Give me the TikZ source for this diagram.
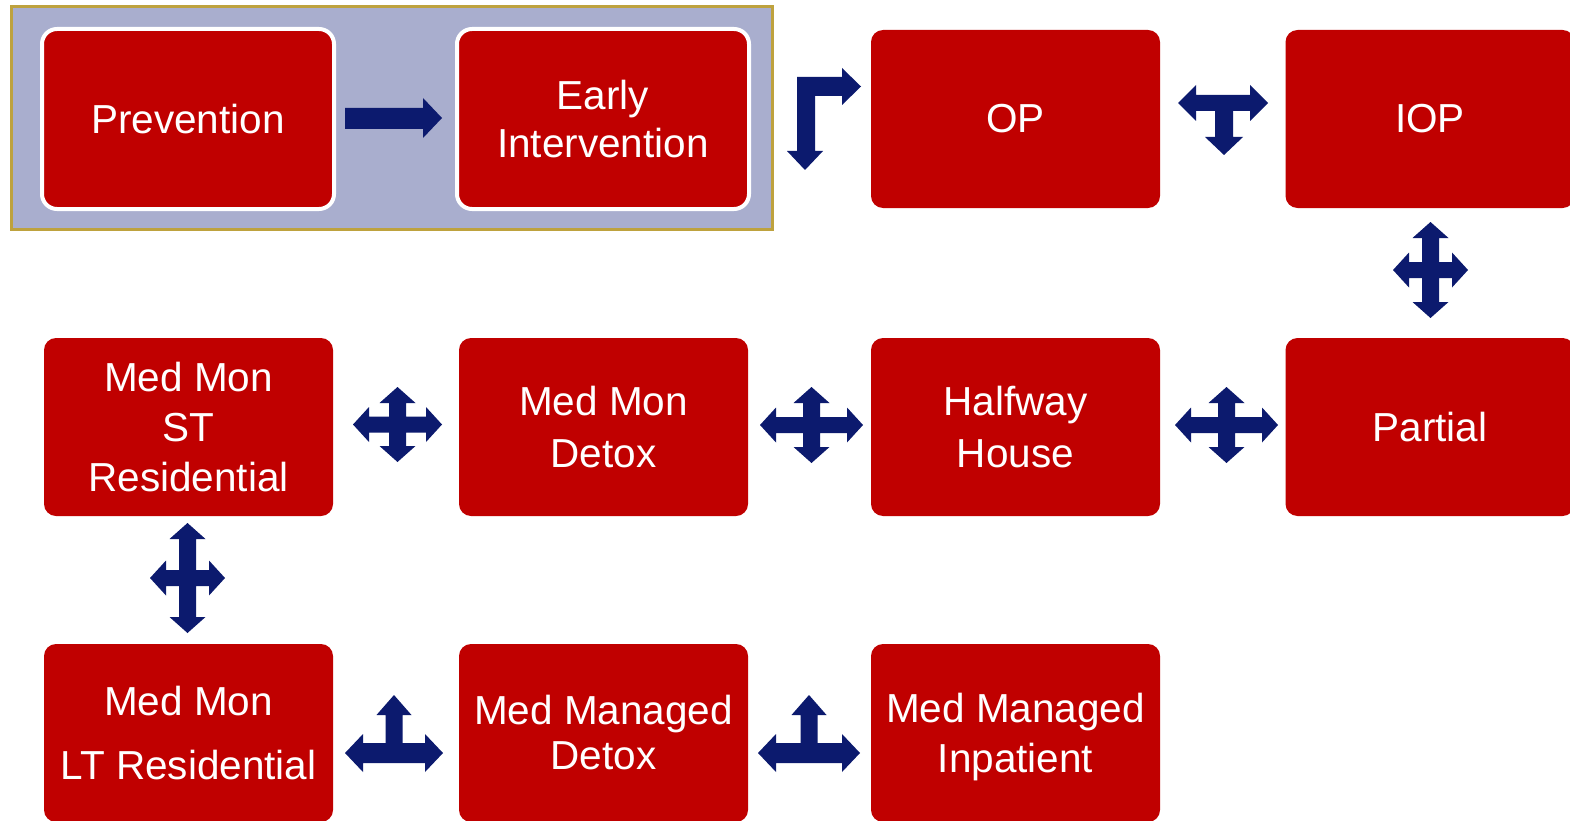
\documentclass[tikz,border=0pt]{standalone}
\usepackage{fontspec}
\setmainfont{Liberation Sans}
\definecolor{boxred}{RGB}{192,0,0}
\definecolor{navy}{RGB}{12,26,110}
\definecolor{lav}{RGB}{169,174,206}
\definecolor{goldc}{RGB}{190,162,62}
\tikzset{
 box/.style={rectangle, rounded corners=12pt, fill=boxred, text=white, minimum width=289pt, minimum height=178pt, inner sep=0pt, outer sep=0pt, align=center, font=\fontsize{40.5}{50}\selectfont},
 wbox/.style={box, draw=white, line width=4pt, minimum width=292pt, minimum height=180pt, rounded corners=15pt},
 blockarrow/.style={fill=navy},
}
\newcommand{\quadarr}[4]{%
\fill[blockarrow] (#1,#2-#4) -- (#1+18,#2-#4+16) -- (#1+8.5,#2-#4+16) -- (#1+8.5,#2-8) -- (#1+#3-16,#2-8) -- (#1+#3-16,#2-17.5) -- (#1+#3,#2) -- (#1+#3-16,#2+17.5) -- (#1+#3-16,#2+8) -- (#1+8.5,#2+8) -- (#1+8.5,#2+#4-16) -- (#1+18,#2+#4-16) -- (#1,#2+#4) -- (#1-18,#2+#4-16) -- (#1-8.5,#2+#4-16) -- (#1-8.5,#2+8) -- (#1-#3+16,#2+8) -- (#1-#3+16,#2+17.5) -- (#1-#3,#2) -- (#1-#3+16,#2-17.5) -- (#1-#3+16,#2-8) -- (#1-8.5,#2-8) -- (#1-8.5,#2-#4+16) -- (#1-18,#2-#4+16) -- cycle;}
\newcommand{\uparr}[3]{%
\fill[blockarrow] (#1,753) -- (#1+18,734) -- (#1+18,743) -- (#3-8.5,743) -- (#3-8.5,715) -- (#3-17.5,715) -- (#3,695) -- (#3+17.5,715) -- (#3+8.5,715) -- (#3+8.5,743) -- (#2-18,743) -- (#2-18,734) -- (#2,753) -- (#2-18,772) -- (#2-18,763) -- (#1+18,763) -- (#1+18,772) -- cycle;}
\begin{document}
\begin{tikzpicture}[x=1pt,y=-1pt]
\useasboundingbox (0,0) rectangle (1570,821);
\clip (0,0) rectangle (1570,821);
\fill[white] (0,0) rectangle (1570,821);
% background group
\draw[draw=goldc, fill=lav, line width=3pt] (11.5,6.5) rectangle (772.5,229.5);
% boxes
\node[wbox] (prev) at (188,119) {Prevention};
\node[wbox] (early) at (603,119) {Early\\[-2pt]Intervention};
\node[box] (op) at (1015.5,119) {OP};
\node[box] (iop) at (1430,119) {IOP};
\node[box] (st) at (188.5,427) {Med Mon\\ST\\Residential};
\node[box] (detox) at (603.5,427) {Med Mon\\[2pt]Detox};
\node[box] (half) at (1015.5,427) {Halfway\\[2pt]House};
\node[box] (partial) at (1430,427) {Partial};
\node[box] (lt) at (188.5,733) {Med Mon\\[14pt]LT Residential};
\node[box] (mdetox) at (603.5,733) {Med Managed\\[-5pt]Detox};
\node[box] (inpat) at (1015.5,733) {Med Managed\\In\smash{p}atient};
% arrows
\fill[blockarrow] (345,108) -- (423,108) -- (423,98) -- (442,118) -- (423,138) -- (423,129) -- (345,129) -- cycle;
\fill[blockarrow] (797,77) -- (842,77) -- (842,68) -- (861,86.5) -- (842,105) -- (842,96) -- (815,96) -- (815,151) -- (823,151) -- (805,170) -- (787,151) -- (797,151) -- cycle;
\fill[blockarrow] (1178,103) -- (1196,85) -- (1196,95) -- (1250,95) -- (1250,85) -- (1268,103) -- (1250,121) -- (1250,111) -- (1233,111) -- (1233,137) -- (1243,137) -- (1224,155) -- (1205,137) -- (1215,137) -- (1215,111) -- (1196,111) -- (1196,121) -- cycle;
\quadarr{1430.5}{270}{37.5}{48}
\quadarr{397.5}{424.5}{44.5}{37.5}
\quadarr{811.5}{425}{51.5}{38}
\quadarr{1226.5}{425}{51.5}{38}
\quadarr{187.5}{578}{37.5}{55}
\uparr{345}{443}{394}
\uparr{758}{860}{809}
\end{tikzpicture}
\end{document}
